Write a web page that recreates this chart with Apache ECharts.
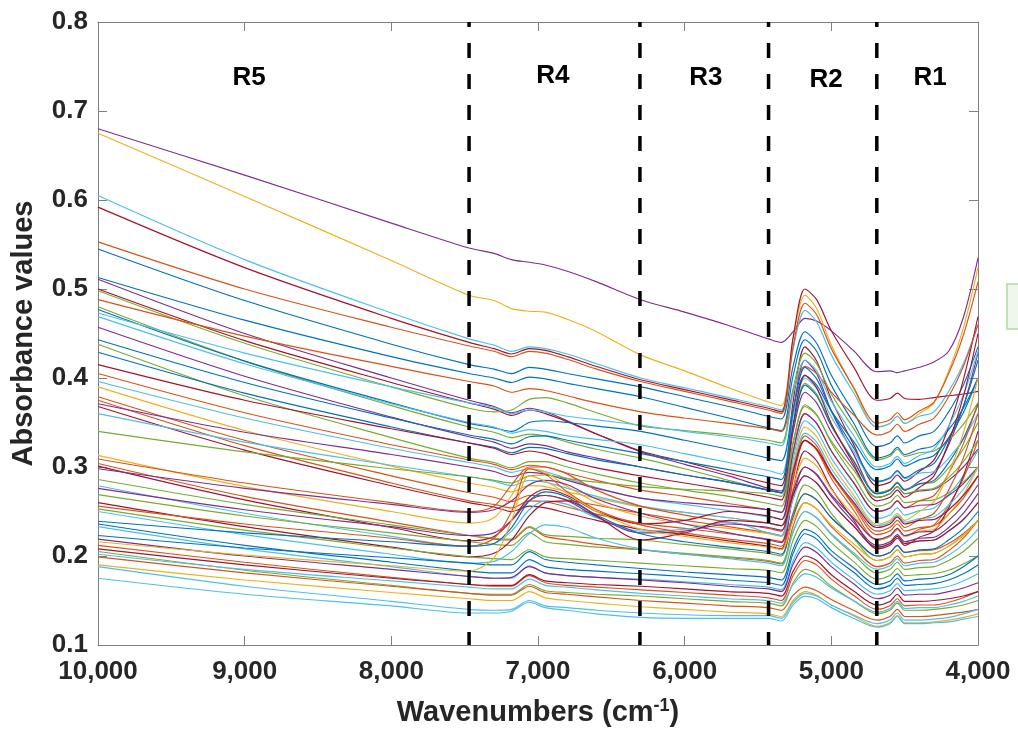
<!DOCTYPE html>
<html><head><meta charset="utf-8">
<script src="https://cdn.jsdelivr.net/npm/echarts@6/dist/echarts.min.js"></script>
<style>html,body{margin:0;padding:0;background:#fff}#c{width:1018px;height:734px}</style>
</head><body><div id="c"></div>
<script>
const wavenumbers = [10000, 9000, 8000, 7470, 7300, 7180, 7060, 6950, 6800, 6600, 6300, 6000, 5700, 5430, 5340, 5260, 5180, 5100, 5000, 4850, 4690, 4600, 4550, 4500, 4400, 4300, 4200, 4100, 4000];

const s01 = [0.680, 0.628, 0.574, 0.546, 0.540, 0.533, 0.530, 0.527, 0.520, 0.508, 0.488, 0.474, 0.459, 0.444, 0.440, 0.452, 0.467, 0.464, 0.453, 0.431, 0.407, 0.408, 0.406, 0.408, 0.412, 0.418, 0.430, 0.468, 0.535];
const s02 = [0.675, 0.604, 0.532, 0.493, 0.487, 0.478, 0.475, 0.474, 0.466, 0.452, 0.426, 0.408, 0.389, 0.373, 0.369, 0.445, 0.493, 0.478, 0.437, 0.389, 0.345, 0.349, 0.357, 0.349, 0.360, 0.372, 0.408, 0.456, 0.524];
const s03 = [0.605, 0.533, 0.473, 0.444, 0.437, 0.430, 0.435, 0.433, 0.427, 0.416, 0.400, 0.389, 0.378, 0.368, 0.364, 0.433, 0.476, 0.463, 0.426, 0.384, 0.345, 0.349, 0.357, 0.349, 0.357, 0.362, 0.385, 0.416, 0.460];
const s04 = [0.592, 0.524, 0.467, 0.440, 0.433, 0.427, 0.433, 0.431, 0.424, 0.413, 0.398, 0.387, 0.376, 0.366, 0.362, 0.446, 0.500, 0.488, 0.453, 0.413, 0.375, 0.377, 0.383, 0.377, 0.376, 0.378, 0.380, 0.382, 0.385];
const s05 = [0.553, 0.500, 0.457, 0.436, 0.430, 0.424, 0.430, 0.428, 0.421, 0.410, 0.396, 0.385, 0.374, 0.364, 0.360, 0.436, 0.484, 0.471, 0.433, 0.390, 0.349, 0.353, 0.361, 0.353, 0.363, 0.373, 0.405, 0.448, 0.508];
const s06 = [0.545, 0.487, 0.438, 0.415, 0.410, 0.405, 0.412, 0.410, 0.405, 0.399, 0.390, 0.379, 0.368, 0.357, 0.354, 0.414, 0.452, 0.439, 0.403, 0.362, 0.323, 0.327, 0.335, 0.327, 0.335, 0.340, 0.362, 0.392, 0.435];
const s07 = [0.513, 0.465, 0.424, 0.405, 0.400, 0.395, 0.401, 0.399, 0.394, 0.388, 0.379, 0.367, 0.355, 0.344, 0.341, 0.403, 0.443, 0.430, 0.392, 0.350, 0.310, 0.314, 0.322, 0.314, 0.320, 0.324, 0.342, 0.366, 0.400];
const s08 = [0.511, 0.450, 0.400, 0.375, 0.368, 0.361, 0.366, 0.362, 0.352, 0.337, 0.317, 0.303, 0.290, 0.276, 0.273, 0.362, 0.420, 0.405, 0.363, 0.315, 0.270, 0.274, 0.282, 0.274, 0.284, 0.294, 0.325, 0.368, 0.428];
const s09 = [0.500, 0.442, 0.395, 0.372, 0.365, 0.358, 0.364, 0.360, 0.351, 0.337, 0.318, 0.306, 0.293, 0.282, 0.279, 0.374, 0.435, 0.419, 0.376, 0.326, 0.279, 0.283, 0.291, 0.284, 0.295, 0.308, 0.345, 0.398, 0.469];
const s10 = [0.498, 0.439, 0.390, 0.366, 0.362, 0.364, 0.376, 0.378, 0.372, 0.361, 0.346, 0.341, 0.336, 0.330, 0.327, 0.389, 0.428, 0.416, 0.382, 0.344, 0.308, 0.312, 0.320, 0.312, 0.316, 0.318, 0.330, 0.348, 0.372];
const s11 = [0.488, 0.447, 0.413, 0.396, 0.391, 0.384, 0.388, 0.386, 0.380, 0.372, 0.362, 0.355, 0.349, 0.343, 0.340, 0.385, 0.413, 0.405, 0.384, 0.359, 0.336, 0.340, 0.348, 0.340, 0.348, 0.355, 0.379, 0.413, 0.460];
const s12 = [0.480, 0.419, 0.369, 0.345, 0.339, 0.333, 0.337, 0.335, 0.328, 0.320, 0.310, 0.298, 0.285, 0.274, 0.271, 0.346, 0.394, 0.382, 0.347, 0.308, 0.271, 0.275, 0.283, 0.275, 0.281, 0.283, 0.299, 0.320, 0.350];
const s13 = [0.477, 0.419, 0.372, 0.349, 0.344, 0.340, 0.350, 0.352, 0.350, 0.346, 0.340, 0.330, 0.320, 0.310, 0.307, 0.366, 0.403, 0.392, 0.363, 0.329, 0.297, 0.301, 0.309, 0.301, 0.308, 0.313, 0.333, 0.361, 0.400];
const s14 = [0.473, 0.428, 0.390, 0.372, 0.367, 0.360, 0.364, 0.362, 0.357, 0.353, 0.347, 0.340, 0.334, 0.327, 0.324, 0.383, 0.420, 0.408, 0.374, 0.336, 0.300, 0.304, 0.312, 0.304, 0.313, 0.320, 0.346, 0.381, 0.430];
const s15 = [0.469, 0.416, 0.371, 0.350, 0.345, 0.338, 0.342, 0.340, 0.335, 0.331, 0.325, 0.315, 0.305, 0.296, 0.292, 0.358, 0.400, 0.388, 0.356, 0.318, 0.283, 0.287, 0.295, 0.287, 0.293, 0.295, 0.310, 0.331, 0.360];
const s16 = [0.457, 0.402, 0.356, 0.334, 0.328, 0.321, 0.326, 0.324, 0.317, 0.310, 0.300, 0.291, 0.283, 0.274, 0.271, 0.340, 0.384, 0.372, 0.339, 0.301, 0.266, 0.270, 0.278, 0.270, 0.273, 0.275, 0.285, 0.300, 0.320];
const s17 = [0.443, 0.395, 0.355, 0.336, 0.331, 0.326, 0.334, 0.335, 0.330, 0.324, 0.315, 0.306, 0.297, 0.289, 0.286, 0.363, 0.412, 0.399, 0.363, 0.322, 0.284, 0.288, 0.296, 0.288, 0.297, 0.304, 0.332, 0.368, 0.420];
const s18 = [0.438, 0.380, 0.333, 0.310, 0.305, 0.299, 0.306, 0.306, 0.300, 0.292, 0.282, 0.274, 0.267, 0.259, 0.256, 0.326, 0.370, 0.359, 0.327, 0.290, 0.256, 0.260, 0.268, 0.260, 0.262, 0.263, 0.271, 0.283, 0.300];
const s19 = [0.429, 0.383, 0.345, 0.327, 0.322, 0.316, 0.322, 0.321, 0.315, 0.308, 0.300, 0.291, 0.283, 0.274, 0.271, 0.345, 0.392, 0.380, 0.346, 0.307, 0.270, 0.274, 0.282, 0.274, 0.281, 0.285, 0.305, 0.332, 0.370];
const s20 = [0.415, 0.375, 0.343, 0.327, 0.321, 0.314, 0.318, 0.315, 0.307, 0.299, 0.290, 0.282, 0.274, 0.266, 0.263, 0.348, 0.403, 0.389, 0.349, 0.304, 0.262, 0.266, 0.274, 0.266, 0.277, 0.290, 0.328, 0.379, 0.450];
const s21 = [0.405, 0.361, 0.325, 0.308, 0.303, 0.297, 0.302, 0.300, 0.293, 0.285, 0.274, 0.267, 0.259, 0.252, 0.249, 0.317, 0.360, 0.349, 0.318, 0.283, 0.250, 0.254, 0.262, 0.254, 0.262, 0.268, 0.293, 0.326, 0.372];
const s22 = [0.396, 0.355, 0.321, 0.305, 0.300, 0.294, 0.298, 0.295, 0.287, 0.277, 0.265, 0.258, 0.251, 0.244, 0.241, 0.309, 0.352, 0.341, 0.310, 0.275, 0.242, 0.246, 0.254, 0.246, 0.251, 0.254, 0.269, 0.290, 0.319];
const s23 = [0.390, 0.341, 0.301, 0.282, 0.277, 0.272, 0.279, 0.278, 0.272, 0.265, 0.255, 0.249, 0.243, 0.237, 0.234, 0.302, 0.345, 0.334, 0.304, 0.269, 0.236, 0.240, 0.248, 0.240, 0.250, 0.261, 0.293, 0.338, 0.400];
const s24 = [0.379, 0.330, 0.290, 0.271, 0.266, 0.261, 0.268, 0.268, 0.263, 0.257, 0.248, 0.240, 0.233, 0.226, 0.223, 0.291, 0.335, 0.324, 0.293, 0.257, 0.224, 0.228, 0.236, 0.228, 0.232, 0.234, 0.247, 0.265, 0.290];
const s25 = [0.375, 0.324, 0.282, 0.262, 0.258, 0.254, 0.262, 0.261, 0.255, 0.247, 0.237, 0.231, 0.225, 0.219, 0.216, 0.286, 0.330, 0.319, 0.287, 0.252, 0.218, 0.222, 0.230, 0.222, 0.230, 0.235, 0.257, 0.287, 0.330];
const s26 = [0.371, 0.339, 0.314, 0.300, 0.295, 0.289, 0.294, 0.292, 0.285, 0.276, 0.265, 0.260, 0.256, 0.252, 0.249, 0.317, 0.360, 0.349, 0.318, 0.283, 0.250, 0.254, 0.262, 0.254, 0.257, 0.258, 0.268, 0.281, 0.300];
const s27 = [0.368, 0.319, 0.279, 0.260, 0.255, 0.250, 0.256, 0.254, 0.248, 0.240, 0.230, 0.224, 0.217, 0.211, 0.208, 0.275, 0.318, 0.307, 0.276, 0.241, 0.208, 0.212, 0.220, 0.212, 0.221, 0.228, 0.254, 0.290, 0.340];
const s28 = [0.360, 0.328, 0.302, 0.289, 0.284, 0.279, 0.285, 0.283, 0.276, 0.267, 0.256, 0.249, 0.243, 0.237, 0.234, 0.298, 0.338, 0.328, 0.298, 0.265, 0.234, 0.238, 0.246, 0.238, 0.242, 0.244, 0.257, 0.275, 0.300];
const s29 = [0.340, 0.317, 0.298, 0.289, 0.285, 0.282, 0.290, 0.291, 0.287, 0.283, 0.278, 0.275, 0.273, 0.270, 0.267, 0.329, 0.368, 0.358, 0.329, 0.297, 0.266, 0.270, 0.278, 0.270, 0.274, 0.276, 0.288, 0.306, 0.330];
const s30 = [0.313, 0.278, 0.250, 0.237, 0.243, 0.268, 0.298, 0.294, 0.278, 0.260, 0.245, 0.236, 0.231, 0.225, 0.222, 0.276, 0.310, 0.301, 0.275, 0.246, 0.218, 0.222, 0.230, 0.222, 0.228, 0.230, 0.247, 0.269, 0.300];
const s31 = [0.309, 0.282, 0.260, 0.250, 0.256, 0.280, 0.300, 0.300, 0.292, 0.274, 0.256, 0.246, 0.238, 0.231, 0.228, 0.290, 0.330, 0.320, 0.291, 0.259, 0.228, 0.232, 0.240, 0.232, 0.241, 0.248, 0.274, 0.310, 0.360];
const s32 = [0.304, 0.267, 0.238, 0.223, 0.219, 0.218, 0.232, 0.222, 0.218, 0.213, 0.207, 0.202, 0.198, 0.194, 0.191, 0.234, 0.260, 0.253, 0.233, 0.210, 0.188, 0.192, 0.200, 0.192, 0.195, 0.196, 0.206, 0.220, 0.240];
const s33 = [0.301, 0.263, 0.232, 0.217, 0.222, 0.240, 0.266, 0.275, 0.268, 0.250, 0.236, 0.240, 0.250, 0.245, 0.241, 0.296, 0.330, 0.320, 0.293, 0.261, 0.232, 0.236, 0.244, 0.236, 0.240, 0.241, 0.252, 0.268, 0.290];
const s34 = [0.298, 0.276, 0.258, 0.249, 0.252, 0.262, 0.280, 0.285, 0.280, 0.264, 0.248, 0.236, 0.226, 0.218, 0.215, 0.267, 0.300, 0.291, 0.267, 0.238, 0.212, 0.216, 0.224, 0.216, 0.220, 0.221, 0.232, 0.248, 0.270];
const s35 = [0.286, 0.258, 0.235, 0.223, 0.220, 0.219, 0.233, 0.224, 0.222, 0.220, 0.218, 0.213, 0.208, 0.203, 0.200, 0.249, 0.280, 0.272, 0.248, 0.220, 0.195, 0.199, 0.207, 0.199, 0.202, 0.203, 0.211, 0.223, 0.240];
const s36 = [0.279, 0.248, 0.222, 0.211, 0.214, 0.228, 0.252, 0.262, 0.258, 0.243, 0.228, 0.230, 0.238, 0.226, 0.223, 0.264, 0.290, 0.282, 0.260, 0.234, 0.210, 0.214, 0.222, 0.214, 0.217, 0.218, 0.228, 0.241, 0.260];
const s37 = [0.276, 0.252, 0.233, 0.223, 0.226, 0.240, 0.262, 0.268, 0.262, 0.244, 0.226, 0.228, 0.236, 0.232, 0.229, 0.273, 0.300, 0.292, 0.269, 0.243, 0.219, 0.223, 0.231, 0.223, 0.227, 0.228, 0.240, 0.257, 0.280];
const s38 = [0.269, 0.245, 0.226, 0.216, 0.213, 0.212, 0.226, 0.216, 0.213, 0.210, 0.207, 0.203, 0.199, 0.195, 0.192, 0.228, 0.250, 0.243, 0.224, 0.202, 0.181, 0.185, 0.193, 0.185, 0.187, 0.188, 0.195, 0.205, 0.220];
const s39 = [0.260, 0.233, 0.210, 0.199, 0.203, 0.218, 0.245, 0.260, 0.262, 0.245, 0.218, 0.226, 0.240, 0.237, 0.234, 0.269, 0.290, 0.282, 0.260, 0.234, 0.210, 0.214, 0.222, 0.214, 0.217, 0.218, 0.228, 0.241, 0.260];
const s40 = [0.256, 0.236, 0.220, 0.211, 0.220, 0.250, 0.298, 0.292, 0.272, 0.252, 0.235, 0.226, 0.219, 0.214, 0.211, 0.248, 0.270, 0.263, 0.243, 0.221, 0.200, 0.204, 0.212, 0.204, 0.206, 0.207, 0.214, 0.225, 0.240];
const s41 = [0.253, 0.229, 0.209, 0.199, 0.197, 0.196, 0.207, 0.199, 0.197, 0.195, 0.192, 0.189, 0.186, 0.184, 0.181, 0.218, 0.240, 0.233, 0.215, 0.194, 0.174, 0.178, 0.186, 0.178, 0.179, 0.180, 0.184, 0.191, 0.200];
const s42 = [0.250, 0.224, 0.202, 0.192, 0.194, 0.205, 0.225, 0.235, 0.232, 0.220, 0.208, 0.202, 0.197, 0.192, 0.189, 0.227, 0.250, 0.243, 0.225, 0.204, 0.185, 0.189, 0.197, 0.189, 0.192, 0.193, 0.201, 0.213, 0.230];
const s43 = [0.239, 0.226, 0.216, 0.211, 0.214, 0.232, 0.262, 0.272, 0.266, 0.246, 0.225, 0.216, 0.210, 0.205, 0.202, 0.244, 0.270, 0.263, 0.243, 0.221, 0.200, 0.204, 0.212, 0.204, 0.207, 0.208, 0.218, 0.231, 0.250];
const s44 = [0.236, 0.212, 0.193, 0.183, 0.181, 0.181, 0.196, 0.188, 0.185, 0.183, 0.180, 0.177, 0.173, 0.170, 0.167, 0.203, 0.225, 0.219, 0.201, 0.182, 0.163, 0.167, 0.175, 0.167, 0.168, 0.169, 0.173, 0.180, 0.190];
const s45 = [0.233, 0.208, 0.188, 0.177, 0.175, 0.175, 0.189, 0.181, 0.178, 0.176, 0.174, 0.171, 0.168, 0.165, 0.162, 0.195, 0.215, 0.209, 0.193, 0.174, 0.157, 0.161, 0.169, 0.161, 0.162, 0.163, 0.166, 0.172, 0.180];
const s46 = [0.223, 0.209, 0.198, 0.192, 0.190, 0.190, 0.205, 0.196, 0.193, 0.190, 0.186, 0.182, 0.179, 0.176, 0.173, 0.208, 0.230, 0.224, 0.206, 0.187, 0.168, 0.172, 0.180, 0.172, 0.174, 0.175, 0.179, 0.188, 0.200];
const s47 = [0.219, 0.200, 0.185, 0.177, 0.175, 0.176, 0.188, 0.181, 0.178, 0.176, 0.173, 0.170, 0.166, 0.163, 0.160, 0.191, 0.210, 0.204, 0.188, 0.169, 0.152, 0.156, 0.164, 0.156, 0.157, 0.157, 0.160, 0.164, 0.170];
const s48 = [0.216, 0.201, 0.189, 0.183, 0.198, 0.240, 0.290, 0.284, 0.270, 0.250, 0.230, 0.222, 0.215, 0.210, 0.207, 0.240, 0.260, 0.253, 0.235, 0.214, 0.195, 0.199, 0.207, 0.199, 0.202, 0.203, 0.211, 0.223, 0.240];
const s49 = [0.212, 0.193, 0.176, 0.168, 0.166, 0.166, 0.178, 0.170, 0.167, 0.165, 0.162, 0.159, 0.156, 0.153, 0.150, 0.178, 0.195, 0.190, 0.174, 0.156, 0.140, 0.144, 0.152, 0.144, 0.145, 0.145, 0.148, 0.153, 0.160];
const s50 = [0.208, 0.190, 0.175, 0.168, 0.167, 0.167, 0.179, 0.172, 0.170, 0.168, 0.166, 0.163, 0.160, 0.158, 0.155, 0.183, 0.200, 0.195, 0.179, 0.161, 0.145, 0.149, 0.157, 0.149, 0.149, 0.150, 0.152, 0.155, 0.160];
const s51 = [0.205, 0.184, 0.167, 0.158, 0.157, 0.157, 0.168, 0.161, 0.159, 0.157, 0.155, 0.152, 0.149, 0.147, 0.144, 0.170, 0.185, 0.180, 0.166, 0.150, 0.135, 0.139, 0.147, 0.139, 0.139, 0.140, 0.142, 0.145, 0.150];
const s52 = [0.202, 0.185, 0.172, 0.165, 0.163, 0.163, 0.174, 0.167, 0.165, 0.162, 0.158, 0.155, 0.152, 0.150, 0.147, 0.168, 0.180, 0.176, 0.164, 0.150, 0.137, 0.141, 0.149, 0.141, 0.142, 0.142, 0.145, 0.149, 0.155];
const s53 = [0.199, 0.181, 0.166, 0.158, 0.156, 0.156, 0.166, 0.159, 0.157, 0.154, 0.150, 0.147, 0.144, 0.142, 0.139, 0.156, 0.165, 0.161, 0.151, 0.139, 0.128, 0.132, 0.140, 0.132, 0.132, 0.133, 0.135, 0.137, 0.140];
const s54 = [0.190, 0.173, 0.159, 0.152, 0.150, 0.150, 0.160, 0.153, 0.150, 0.147, 0.143, 0.140, 0.137, 0.135, 0.132, 0.150, 0.160, 0.156, 0.145, 0.133, 0.121, 0.125, 0.133, 0.125, 0.125, 0.126, 0.128, 0.131, 0.135];
const s55 = [0.188, 0.166, 0.149, 0.140, 0.139, 0.140, 0.150, 0.144, 0.142, 0.139, 0.136, 0.134, 0.133, 0.133, 0.130, 0.148, 0.158, 0.155, 0.145, 0.134, 0.124, 0.128, 0.136, 0.128, 0.128, 0.129, 0.131, 0.135, 0.140];
const s56 = [0.175, 0.157, 0.144, 0.136, 0.136, 0.138, 0.148, 0.142, 0.139, 0.135, 0.131, 0.130, 0.130, 0.130, 0.127, 0.145, 0.155, 0.152, 0.142, 0.130, 0.120, 0.124, 0.132, 0.124, 0.124, 0.125, 0.126, 0.129, 0.132];

const spectra = [s01, s02, s03, s04, s05, s06, s07, s08, s09, s10, s11, s12, s13, s14, s15, s16, s17, s18, s19, s20,
  s21, s22, s23, s24, s25, s26, s27, s28, s29, s30, s31, s32, s33, s34, s35, s36, s37, s38, s39, s40,
  s41, s42, s43, s44, s45, s46, s47, s48, s49, s50, s51, s52, s53, s54, s55, s56];

const spectrumColorNames = ['purple', 'yellow', 'cyan', 'darkred', 'orange', 'blue', 'blue', 'purple', 'darkred', 'green',
  'orange', 'green', 'blue', 'cyan', 'cyan', 'purple', 'blue', 'green', 'blue', 'darkred',
  'orange', 'cyan', 'yellow', 'orange', 'orange', 'purple', 'darkred', 'cyan', 'green', 'yellow',
  'orange', 'orange', 'darkred', 'purple', 'green', 'cyan', 'purple', 'green', 'darkred', 'orange',
  'green', 'cyan', 'blue', 'blue', 'cyan', 'blue', 'purple', 'yellow', 'orange', 'darkred',
  'green', 'cyan', 'orange', 'yellow', 'cyan', 'cyan'];

const palette = { blue: '#0072BD', orange: '#D95319', yellow: '#EDB120', purple: '#7E2F8E', green: '#77AC30', cyan: '#4DBEEE', darkred: '#A2142F' };

const regionNames = ['R5', 'R4', 'R3', 'R2', 'R1'];
const regionCenters = [8970, 6898, 5855, 5036, 4327];
const regionLabelY = [0.737, 0.740, 0.737, 0.735, 0.737];
const regionBoundaries = [7470, 6305, 5428, 4690];

const FONT = '"Liberation Sans", Arial, Helvetica, sans-serif';
const AX = '#7f7f7f';
const TXT = '#262626';

const series = [];
spectra.forEach((s, k) => {
  series.push({
    type: 'line',
    data: wavenumbers.map((w, i) => [w, s[i]]),
    showSymbol: false,
    symbol: 'none',
    smooth: 0.3,
    lineStyle: { width: 1.15, color: palette[spectrumColorNames[k]] },
    silent: true,
    z: 2
  });
});
regionBoundaries.forEach(b => {
  series.push({
    type: 'line',
    data: [[b, 0.8], [b, 0.1]],
    showSymbol: false,
    symbol: 'none',
    lineStyle: { width: 3.5, color: '#000', type: [15, 16], dashOffset: 10 },
    silent: true,
    z: 4
  });
});
series.push({
  type: 'scatter',
  data: regionNames.map((n, i) => ({ name: n, value: [regionCenters[i], regionLabelY[i]] })),
  symbolSize: 0.01,
  itemStyle: { color: '#000' },
  label: { show: true, position: 'inside', formatter: '{b}', fontFamily: FONT, fontSize: 26, fontWeight: 'bold',
    color: '#000', textBorderWidth: 0, opacity: 1 },
  silent: true,
  z: 5
});

const chart = echarts.init(document.getElementById('c'), null, { renderer: 'canvas' });
chart.setOption({
  animation: false,
  backgroundColor: '#fff',
  textStyle: { fontFamily: FONT },
  grid: { left: 98, right: 40, top: 22, bottom: 89, containLabel: false },
  xAxis: [{
    type: 'value', inverse: true, min: 4000, max: 10000, interval: 1000,
    axisLine: { show: true, lineStyle: { color: AX, width: 1 } },
    axisTick: { show: true, inside: true, length: 9, lineStyle: { color: AX } },
    splitLine: { show: false },
    axisLabel: { fontFamily: FONT, fontSize: 26, fontWeight: 'bold', color: TXT, margin: 14,
      formatter: v => v.toLocaleString('en-US') },
    name: 'Wavenumbers (cm{sup|-1})',
    nameLocation: 'middle', nameGap: 52,
    nameTextStyle: { fontFamily: FONT, fontSize: 29, fontWeight: 'bold', color: TXT,
      rich: { sup: { fontFamily: FONT, fontSize: 18, fontWeight: 'bold', color: TXT, verticalAlign: 'bottom', padding: [0, 0, 14, 0] } } }
  }, {
    type: 'value', inverse: true, min: 4000, max: 10000, interval: 1000, position: 'top',
    axisLine: { show: true, lineStyle: { color: AX, width: 1 } },
    axisTick: { show: true, inside: true, length: 9, lineStyle: { color: AX } },
    axisLabel: { show: false }, splitLine: { show: false }
  }],
  yAxis: [{
    type: 'value', min: 0.1, max: 0.8, interval: 0.1,
    axisLine: { show: true, lineStyle: { color: AX, width: 1 } },
    axisTick: { show: true, inside: true, length: 9, lineStyle: { color: AX } },
    splitLine: { show: false },
    axisLabel: { fontFamily: FONT, fontSize: 26, fontWeight: 'bold', color: TXT, margin: 10,
      formatter: v => v.toFixed(1) },
    name: 'Absorbance values', nameLocation: 'middle', nameGap: 60, nameRotate: 90,
    nameTextStyle: { fontFamily: FONT, fontSize: 29, fontWeight: 'bold', color: TXT }
  }, {
    type: 'value', min: 0.1, max: 0.8, interval: 0.1, position: 'right',
    axisLine: { show: true, lineStyle: { color: AX, width: 1 } },
    axisTick: { show: true, inside: true, length: 9, lineStyle: { color: AX } },
    axisLabel: { show: false }, splitLine: { show: false }
  }],
  graphic: [{
    type: 'rect', left: 1006, top: 283, silent: true,
    shape: { width: 20, height: 45 },
    style: { fill: '#eef7e9', stroke: '#c3e2b3', lineWidth: 2 }
  }],
  series: series
});
</script>
</body></html>
